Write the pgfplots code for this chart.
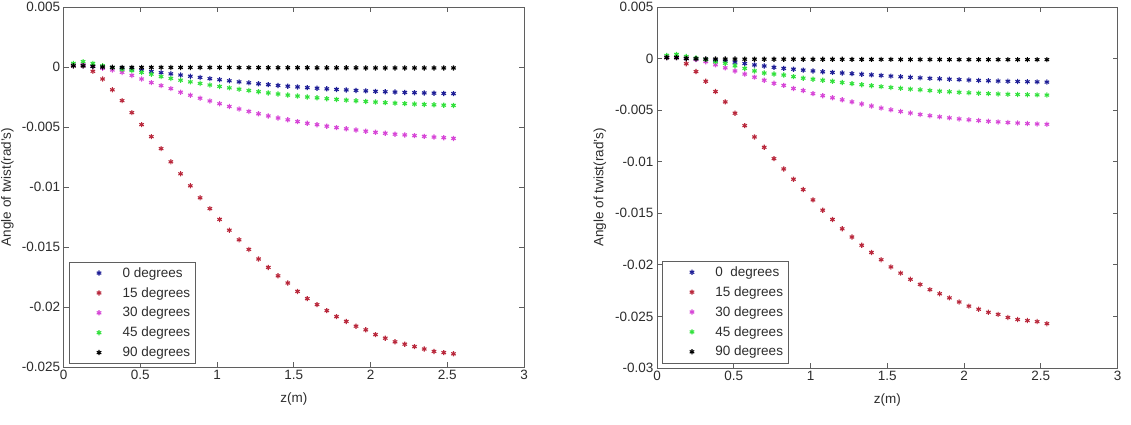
\documentclass[border=0pt]{standalone}
\usepackage{fontspec}
\setmainfont{Liberation Sans}
\usepackage{pgfplots}
\usepackage{pgfplotstable}
\pgfplotsset{compat=1.18}

\definecolor{cBlue}{RGB}{30,30,150}
\definecolor{cRed}{RGB}{185,40,60}
\definecolor{cMag}{RGB}{215,70,215}
\definecolor{cGreen}{RGB}{50,225,60}
\definecolor{cAxis}{RGB}{95,95,95}
\definecolor{cText}{RGB}{45,45,45}

% angle of twist (rad) along z (m), one column per fibre angle
\pgfplotstableread{
z      d0       d15      d30      d45      d90
0.0635 0.0001   0.0001   0.0002   0.0003   0.0001
0.127  0.0001   0.0001   0.0002   0.00045  0.0001
0.1905 0.00005  -0.00036 0.0001   0.0003   0.00005
0.254  0        -0.001   -0.0001  0.0001   0
0.3175 -0.00005 -0.0019  -0.00025 -0.00005 -0.00002
0.381  -0.0001  -0.0028  -0.00045 -0.0002  -0.00003
0.4445 -0.00018 -0.0038  -0.0007  -0.0003  -0.00003
0.508  -0.00027 -0.0048  -0.001   -0.00045 -0.00003
0.5715 -0.00037 -0.0058  -0.0013  -0.0006  -0.00003
0.635  -0.00047 -0.0068  -0.00155 -0.0008  -0.00003
0.6985 -0.00057 -0.0079  -0.0018  -0.00095 -0.00004
0.762  -0.00067 -0.0089  -0.0021  -0.0011  -0.00004
0.8255 -0.00077 -0.0099  -0.00235 -0.00124 -0.00004
0.889  -0.00087 -0.0109  -0.0026  -0.00137 -0.00004
0.9525 -0.00097 -0.0118  -0.00283 -0.0015  -0.00004
1.016  -0.00106 -0.0127  -0.00306 -0.00162 -0.00004
1.0795 -0.00115 -0.0136  -0.00329 -0.00174 -0.00004
1.143  -0.00124 -0.0144  -0.0035  -0.00185 -0.00005
1.2065 -0.00132 -0.0152  -0.0037  -0.00196 -0.00005
1.27   -0.0014  -0.016   -0.0039  -0.00206 -0.00005
1.3335 -0.00147 -0.0167  -0.00408 -0.00216 -0.00006
1.397  -0.00154 -0.0174  -0.00425 -0.00225 -0.00006
1.4605 -0.0016  -0.018   -0.0044  -0.00234 -0.00006
1.524  -0.00166 -0.0187  -0.00455 -0.00242 -0.00006
1.5875 -0.00172 -0.0193  -0.00469 -0.0025  -0.00006
1.651  -0.00177 -0.0198  -0.00481 -0.00257 -0.00007
1.7145 -0.00182 -0.0203  -0.00493 -0.00264 -0.00007
1.778  -0.00187 -0.0208  -0.00505 -0.0027  -0.00007
1.8415 -0.00191 -0.0212  -0.00515 -0.00276 -0.00007
1.905  -0.00195 -0.0216  -0.00525 -0.00282 -0.00007
1.9685 -0.00199 -0.0219  -0.00535 -0.00287 -0.00008
2.032  -0.00203 -0.0223  -0.00544 -0.00292 -0.00008
2.0955 -0.00206 -0.0226  -0.00552 -0.00297 -0.00008
2.159  -0.00209 -0.0229  -0.0056  -0.00301 -0.00008
2.2225 -0.00212 -0.0231  -0.00566 -0.00305 -0.00008
2.286  -0.00214 -0.0233  -0.00572 -0.00309 -0.00008
2.3495 -0.00216 -0.0235  -0.00578 -0.00312 -0.00008
2.413  -0.00218 -0.0237  -0.00584 -0.00315 -0.00008
2.4765 -0.0022  -0.0238  -0.00589 -0.00318 -0.00008
2.54   -0.00222 -0.0239  -0.00595 -0.0032  -0.00008
}\twistA

\pgfplotstableread{
z      d0       d15      d30      d45      d90
0.0635 0.0001   0.0001   0.0002   0.0003   0.0001
0.127  0.0001   0.0001   0.0002   0.0004   0.0001
0.1905 0        -0.0005  0.0001   0.0002   0
0.254  -0.00003 -0.00126 -0.0001  0.00005  -0.00002
0.3175 -0.00008 -0.0022  -0.0003  -0.0001  -0.00004
0.381  -0.00015 -0.0032  -0.0006  -0.0003  -0.00005
0.4445 -0.00025 -0.0042  -0.0009  -0.00045 -0.00005
0.508  -0.00035 -0.0053  -0.0012  -0.0007  -0.00005
0.5715 -0.00048 -0.0065  -0.0015  -0.00095 -0.00006
0.635  -0.00062 -0.0076  -0.0018  -0.0012  -0.00006
0.6985 -0.00072 -0.0086  -0.0021  -0.0014  -0.00006
0.762  -0.00085 -0.0097  -0.0024  -0.0015  -0.00006
0.8255 -0.00095 -0.0107  -0.0026  -0.0016  -0.00006
0.889  -0.00103 -0.0117  -0.0029  -0.00175 -0.00006
0.9525 -0.00112 -0.0127  -0.0031  -0.0019  -0.00007
1.016  -0.0012  -0.0137  -0.0034  -0.002   -0.00007
1.0795 -0.00128 -0.0147  -0.0036  -0.0021  -0.00007
1.143  -0.00134 -0.0156  -0.0038  -0.0022  -0.00007
1.2065 -0.0014  -0.0165  -0.004   -0.00232 -0.00007
1.27   -0.00146 -0.0173  -0.0042  -0.00243 -0.00008
1.3335 -0.00152 -0.0181  -0.0044  -0.00253 -0.00008
1.397  -0.00158 -0.0188  -0.0046  -0.00263 -0.00008
1.4605 -0.00164 -0.0195  -0.0048  -0.00272 -0.00008
1.524  -0.0017  -0.0202  -0.00497 -0.0028  -0.00008
1.5875 -0.00176 -0.0208  -0.00513 -0.00288 -0.00009
1.651  -0.00182 -0.0214  -0.00528 -0.00296 -0.00009
1.7145 -0.00187 -0.0219  -0.00542 -0.00303 -0.00009
1.778  -0.00192 -0.0224  -0.00554 -0.0031  -0.00009
1.8415 -0.00196 -0.0228  -0.00565 -0.00316 -0.00009
1.905  -0.002   -0.0232  -0.00575 -0.00322 -0.0001
1.9685 -0.00204 -0.0236  -0.00585 -0.00327 -0.0001
2.032  -0.00208 -0.024   -0.00594 -0.00332 -0.0001
2.0955 -0.00212 -0.0243  -0.00601 -0.00336 -0.0001
2.159  -0.00215 -0.0246  -0.00608 -0.0034  -0.0001
2.2225 -0.00218 -0.0248  -0.00614 -0.00343 -0.0001
2.286  -0.0022  -0.0251  -0.0062  -0.00346 -0.0001
2.3495 -0.00222 -0.0253  -0.00625 -0.00348 -0.0001
2.413  -0.00224 -0.0254  -0.0063  -0.0035  -0.0001
2.4765 -0.00226 -0.0255  -0.00634 -0.00352 -0.0001
2.54   -0.00228 -0.0257  -0.00637 -0.00354 -0.0001
}\twistB

\pgfplotsset{
  twist/.style={
    scale only axis,
    width=460.5pt,
    height=360pt,
    xmin=0, xmax=3,
    xtick={0,0.5,1,1.5,2,2.5,3},
    xticklabels={0,0.5,1,1.5,2,2.5,3},
    scaled x ticks=false, scaled y ticks=false,
    tick align=inside,
    major tick length=5pt,
    axis line style={cAxis, line width=0.8pt},
    tick style={cAxis, line width=0.8pt},
    tick label style={font=\fontsize{13.5}{15}\selectfont, text=cText},
    label style={font=\fontsize{13.5}{15}\selectfont, text=cText},
    xlabel={z(m)},
    ylabel={Angle of twist(rad's)},
    xlabel style={at={(axis description cs:0.5,-0.089)}, anchor=center},
    legend cell align=left,
    legend style={
      draw=cAxis, line width=0.8pt, fill=white,
      font=\fontsize{13.5}{15}\selectfont, text=cText,
      anchor=south west,
      inner xsep=3pt, inner ysep=3pt,
      row sep=3.6pt,
      nodes={inner ysep=2.5pt},
    },
    legend image code/.code={
      \path[draw=none] (0pt,0pt) -- (48pt,0pt);
      \draw[##1, only marks] plot coordinates {(26.5pt,0pt)};
    },
    every axis plot/.append style={
      only marks, mark=asterisk, mark size=2.6pt, line width=1.1pt
    },
  }
}

\begin{document}
\begin{tikzpicture}
\useasboundingbox (0pt,0pt) rectangle (1131pt,424pt);

\begin{axis}[twist,
  at={(63.6pt,57pt)}, anchor=south west,
  ymin=-0.025, ymax=0.005,
  ytick={-0.025,-0.02,-0.015,-0.01,-0.005,0,0.005},
  yticklabels={-0.025,-0.02,-0.015,-0.01,-0.005,0,0.005},
  ylabel style={at={(axis description cs:-0.122,0.5)}, anchor=center},
  legend style={at={(0.012,0.008)}},
]
\addplot[cBlue]  table[x=z,y=d0]  {\twistA};
\addplot[cRed]   table[x=z,y=d15] {\twistA};
\addplot[cMag]   table[x=z,y=d30] {\twistA};
\addplot[cGreen] table[x=z,y=d45] {\twistA};
\addplot[black]  table[x=z,y=d90] {\twistA};
\legend{0 degrees,15 degrees,30 degrees,45 degrees,90 degrees}
\end{axis}

\begin{axis}[twist,
  at={(657pt,56pt)}, anchor=south west,
  height=361pt,
  ymin=-0.03, ymax=0.005,
  ytick={-0.03,-0.025,-0.02,-0.015,-0.01,-0.005,0,0.005},
  yticklabels={-0.03,-0.025,-0.02,-0.015,-0.01,-0.005,0,0.005},
  ylabel style={at={(axis description cs:-0.124,0.5)}, anchor=center},
  legend style={at={(0.011,0.013)}},
]
\addplot[cBlue]  table[x=z,y=d0]  {\twistB};
\addplot[cRed]   table[x=z,y=d15] {\twistB};
\addplot[cMag]   table[x=z,y=d30] {\twistB};
\addplot[cGreen] table[x=z,y=d45] {\twistB};
\addplot[black]  table[x=z,y=d90] {\twistB};
\legend{0\ \ degrees,15 degrees,30 degrees,45 degrees,90 degrees}
\end{axis}
\end{tikzpicture}
\end{document}
